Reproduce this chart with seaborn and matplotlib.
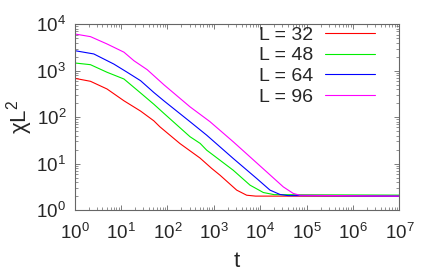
import numpy as np
import pandas as pd
import matplotlib
matplotlib.use("Agg")
import matplotlib.pyplot as plt
import seaborn as sns
from matplotlib.ticker import LogLocator, NullFormatter

# ------------------ values ------------------
labels = ["L = 32", "L = 48", "L = 64", "L = 96"]
colors = ["#ff0000", "#00ee00", "#0000ff", "#ff00ff"]

t_32 = [1, 2.2, 5, 11.6, 26.5, 51, 69, 187, 505, 900, 1360, 3120, 5120, 8000, 1e7]
chi_32 = [686, 591, 404, 225, 135, 83.5, 62, 27, 13.2, 7.9, 5.65, 2.69, 2.09, 2.0, 2.0]

t_48 = [1, 2.2, 5, 11.6, 26.5, 51, 84, 307, 510, 703, 2630, 6050, 11700, 20000, 1e7]
chi_48 = [1466, 1346, 925, 662, 331, 190, 121, 38, 27.2, 19.5, 7.2, 3.44, 2.39, 2.15, 2.1]

t_64 = [1, 2.6, 7, 13.6, 26.5, 51, 84, 307, 703, 2630, 8400, 16300, 26700, 40000, 1e7]
chi_64 = [2700, 2290, 1390, 925, 608, 340, 225, 80, 41, 12.9, 4.8, 2.69, 2.17, 2.05, 2.0]

t_96 = [1, 2.2, 5, 11.6, 19, 36.8, 84, 307, 828, 2630, 13800, 31500, 51800, 72000, 1e7]
chi_96 = [6170, 5400, 3760, 2500, 1640, 1050, 499, 167, 80, 29.5, 6.65, 3.16, 2.28, 2.09, 2.0]

series = [(labels[0], t_32, chi_32), (labels[1], t_48, chi_48),
          (labels[2], t_64, chi_64), (labels[3], t_96, chi_96)]
df = pd.concat([pd.DataFrame({"t": t, "chi": c, "L": name}) for name, t, c in series],
               ignore_index=True)

# ------------------ style ------------------
sns.set_style("ticks")
plt.rcParams["font.family"] = ["Liberation Sans", "DejaVu Sans"]
plt.rcParams["mathtext.fontset"] = "custom"
plt.rcParams["mathtext.rm"] = "Liberation Sans"
plt.rcParams["mathtext.it"] = "Liberation Sans:italic"
plt.rcParams["mathtext.default"] = "regular"

fig, ax = plt.subplots(figsize=(4.36, 2.75), dpi=100)
fig.subplots_adjust(left=0.171, right=0.916, top=0.912, bottom=0.236)

sns.lineplot(data=df, x="t", y="chi", hue="L", hue_order=labels,
             palette=dict(zip(labels, colors)), estimator=None, sort=False,
             linewidth=0.8, ax=ax)

ax.set_xscale("log")
ax.set_yscale("log")
ax.set_xlim(1, 1e7)
ax.set_ylim(1, 1e4)

ax.xaxis.set_major_locator(LogLocator(base=10, numticks=20))
ax.yaxis.set_major_locator(LogLocator(base=10, numticks=20))
for axis in (ax.xaxis, ax.yaxis):
    axis.set_minor_locator(LogLocator(base=10, subs=np.arange(2, 10), numticks=100))
    axis.set_minor_formatter(NullFormatter())

ax.tick_params(which="both", direction="in", top=True, right=True,
               color="#666666", labelsize=13.5)
ax.tick_params(which="major", length=3.5, width=0.6, pad=6)
ax.tick_params(which="minor", length=2, width=0.5)
ax.tick_params(axis="x", which="major", pad=9)
for sp in ax.spines.values():
    sp.set_color("#666666")
    sp.set_linewidth(0.8)

ax.set_xlabel("t", fontsize=16, labelpad=6)
ax.set_ylabel("χL$^2$", fontsize=16, labelpad=1)

handles, labs = ax.get_legend_handles_labels()
ax.legend(handles, labs, frameon=False, markerfirst=False, fontsize=14,
          loc="upper right", bbox_to_anchor=(375 / 436, 1 - 26 / 275),
          bbox_transform=fig.transFigure, borderpad=0, borderaxespad=0,
          handlelength=2.57, handletextpad=0.62, labelspacing=0.16)

fig.savefig("out.png", dpi=100)
